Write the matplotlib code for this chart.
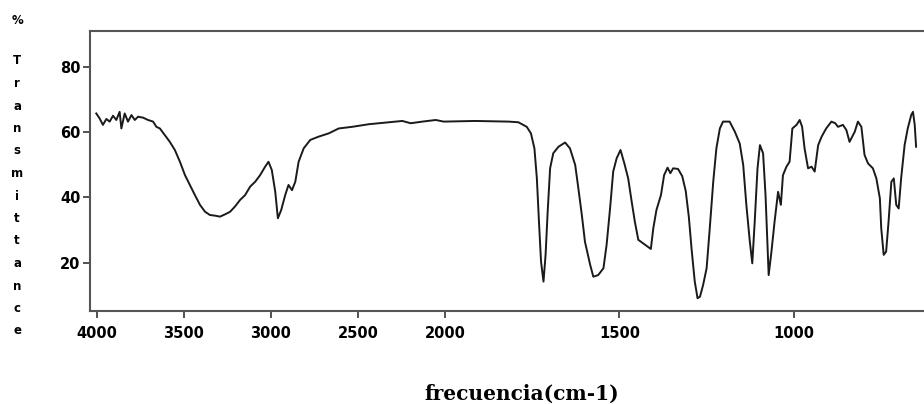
import numpy as np
import matplotlib

matplotlib.use("Agg")
import matplotlib.pyplot as plt

# IR spectrum (cm-1, % transmittance)
wavenumber = [
    4002, 3983, 3964, 3944, 3925, 3906, 3887, 3868, 3858, 3839, 3820, 3800,
    3781, 3762, 3733, 3705, 3676, 3657, 3637, 3609, 3580, 3551, 3522, 3493,
    3465, 3436, 3407, 3378, 3350, 3321, 3292, 3263, 3234, 3206, 3177, 3148,
    3119, 3090, 3062, 3033, 3014, 2995, 2975, 2960, 2941, 2918, 2899, 2879,
    2860, 2841, 2812, 2774, 2726, 2668, 2611, 2534, 2438, 2323, 2246, 2198,
    2131, 2054, 2009, 1914, 1818, 1790, 1766, 1754, 1744, 1737, 1731, 1725,
    1718, 1712, 1706, 1699, 1690, 1675, 1656, 1642, 1627, 1618, 1608, 1599,
    1584, 1575, 1561, 1546, 1537, 1527, 1518, 1508, 1497, 1486, 1475, 1465,
    1456, 1446, 1432, 1410, 1403, 1394, 1381, 1372, 1362, 1354, 1346, 1332,
    1320, 1310, 1301, 1293, 1284, 1276, 1269, 1260, 1250, 1241, 1231, 1222,
    1212, 1203, 1184, 1169, 1155, 1145, 1136, 1126, 1119, 1112, 1104, 1097,
    1088, 1081, 1076, 1072, 1064, 1055, 1045, 1037, 1031, 1021, 1012, 1004,
    992, 983, 976, 969, 959, 949, 940, 930, 920, 907, 892, 881, 873, 859,
    849, 840, 825, 816, 806, 797, 787, 773, 763, 753, 749, 742, 735, 728,
    720, 713, 706, 699, 692, 682, 673, 663, 658, 653, 649,
]
transmittance = [
    65.7, 64.2, 62.2, 64.0, 63.2, 65.0, 63.7, 66.2, 61.1, 65.7, 63.2, 65.2,
    63.7, 64.7, 64.4, 63.7, 63.2, 61.6, 61.1, 59.1, 57.0, 54.5, 50.9, 46.8,
    43.8, 40.7, 37.7, 35.6, 34.6, 34.4, 34.1, 34.8, 35.6, 37.2, 39.2, 40.7,
    43.3, 44.8, 46.8, 49.4, 50.9, 48.4, 41.7, 33.6, 36.1, 40.7, 43.8, 42.2,
    44.8, 50.9, 55.0, 57.6, 58.6, 59.6, 61.1, 61.6, 62.4, 63.0, 63.4, 62.7,
    63.2, 63.7, 63.2, 63.4, 63.2, 63.0, 61.6, 59.6, 55.0, 45.8, 32.6, 20.3,
    14.2, 22.4, 35.6, 48.9, 53.5, 55.5, 56.8, 55.0, 49.9, 42.8, 34.6, 26.4,
    19.3, 15.7, 16.2, 18.3, 25.4, 36.6, 47.9, 52.0, 54.5, 50.4, 45.8, 38.7,
    32.6, 27.0, 25.9, 24.2, 30.5, 36.1, 40.7, 46.8, 49.1, 47.4, 48.9, 48.7,
    46.5, 42.0, 34.0, 24.0, 14.2, 9.1, 9.6, 13.2, 18.3, 30.5, 44.8, 55.0,
    61.1, 63.2, 63.2, 60.1, 56.5, 49.9, 37.7, 26.4, 19.8, 32.6, 48.9, 56.0,
    53.5, 40.7, 27.5, 16.2, 23.4, 32.6, 41.7, 37.7, 46.8, 49.4, 50.9, 61.1,
    62.2, 63.7, 61.6, 55.0, 48.9, 49.4, 47.9, 56.0, 58.6, 61.1, 63.2, 62.7,
    61.6, 62.2, 60.6, 57.0, 60.1, 63.2, 61.6, 53.0, 50.4, 48.9, 45.8, 39.7,
    30.5, 22.4, 23.4, 32.6, 44.8, 45.8, 37.7, 36.6, 45.8, 56.0, 61.1, 65.2,
    66.2, 62.2, 55.5,
]
x_ticks = [4000, 3500, 3000, 2500, 2000, 1500, 1000]
y_ticks = [20, 40, 60, 80]
y_label = "%\n\nTransmittance"
x_label = "frecuencia(cm-1)"


# the spectrometer doubles the scale below 2000 cm-1
def fwd(v):
    v = np.asarray(v, dtype=float)
    return np.where(v >= 2000, v, 2 * v - 2000)


def inv(u):
    u = np.asarray(u, dtype=float)
    return np.where(u >= 2000, u, (u + 2000) / 2)


fig = plt.figure(figsize=(9.24, 4.04), dpi=100)
ax = fig.add_axes([0.0974, 0.2302, 0.905, 0.6943])
ax.set_xscale("function", functions=(fwd, inv))
ax.plot(wavenumber, transmittance, color="#1a1a1a", linewidth=1.4)

ax.set_xlim(4038, 620)
ax.set_ylim(5.2, 91.1)
ax.set_xticks(x_ticks)
ax.set_xticklabels([str(t) for t in x_ticks])
ax.set_yticks(y_ticks)
ax.minorticks_off()

for side in ["left", "bottom", "top"]:
    ax.spines[side].set_color("#555555")
    ax.spines[side].set_linewidth(1.5)
ax.spines["right"].set_visible(False)

ax.tick_params(axis="both", direction="out", length=5, width=1.3, color="#444444")
ax.tick_params(axis="x", pad=6)
ax.tick_params(axis="y", pad=2)
for lab in ax.get_xticklabels() + ax.get_yticklabels():
    lab.set_fontweight("bold")
    lab.set_fontsize(10.5)
    lab.set_family("DejaVu Sans")

# stacked vertical y label, one letter per line
letters = y_label.split("\n")[0:2] + list(y_label.split("\n")[2])
for i, ch in enumerate(letters):
    if ch == "":
        continue
    y_px = 20 if i == 0 else 16 + 22.5 * i
    fig.text(17 / 924, 1 - y_px / 404, ch, ha="center", va="center",
             fontsize=8.5, fontweight="bold", family="DejaVu Sans")

fig.text(522 / 924, 1 - 394 / 404, x_label, ha="center", va="center",
         fontsize=14.5, fontweight="bold", family="DejaVu Serif")

fig.savefig("out.png", dpi=100)
